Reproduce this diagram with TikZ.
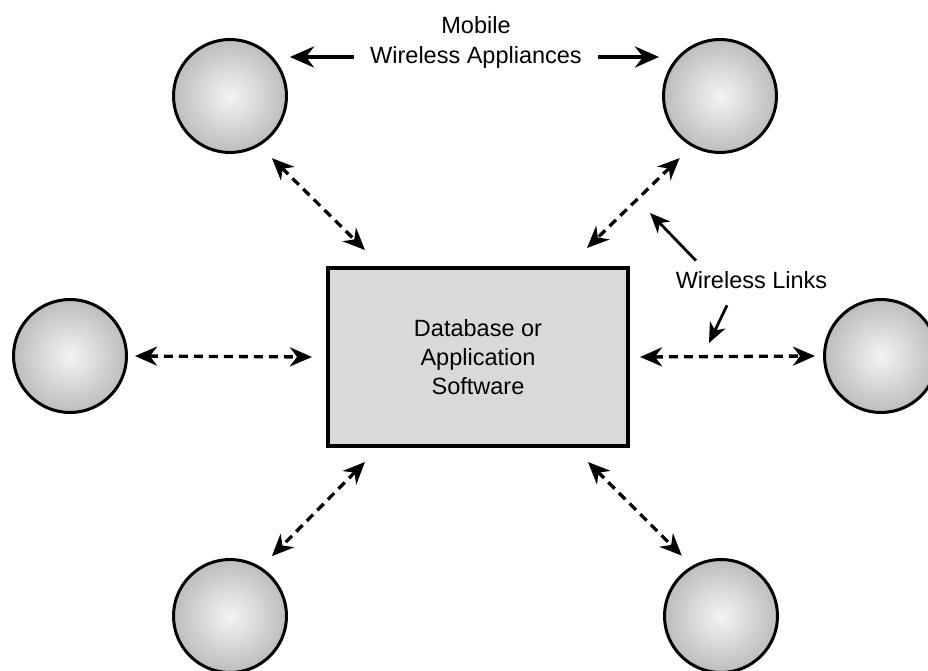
\documentclass[tikz,border=0pt]{standalone}
\usepackage{fontspec}
\setmainfont{Liberation Sans}
\usetikzlibrary{arrows.meta}
\definecolor{ballin}{HTML}{F4F4F4}
\definecolor{ballmid}{HTML}{BDBDBD}
\definecolor{ballout}{HTML}{7E7E7E}
\definecolor{boxgray}{HTML}{D9D9D9}
\pgfdeclareradialshading{ballshade}{\pgfpoint{0bp}{0bp}}{color(0bp)=(ballin); color(25bp)=(ballmid); color(50bp)=(ballout)}
\tikzset{
  ball/.style={circle, draw=black, line width=3pt, minimum size=113pt, inner sep=0pt, shading=ballshade},
  lbl/.style={inner sep=0pt, font=\fontsize{23.5}{29}\selectfont, align=center},
  link/.style={line width=3.3pt, dash pattern=on 9pt off 6pt,
    {Stealth[length=22pt,width=19pt,inset=7pt]}-{Stealth[length=22pt,width=19pt,inset=7pt]}},
  bigarr/.style={line width=4pt, -{Stealth[length=24pt,width=21pt,inset=8pt]}},
  smallarr/.style={line width=2.8pt, -{Stealth[length=20pt,width=17pt,inset=6pt]}}
}
\begin{document}
\begin{tikzpicture}[x=1pt,y=1pt]
\useasboundingbox (0,0) rectangle (928,670);
\clip (0,0) rectangle (928,670);
% appliances
\node[ball] (tl) at (230,574) {};
\node[ball] (tr) at (720,574) {};
\node[ball] (l) at (70,314) {};
\node[ball] (r) at (881,314) {};
\node[ball] (bl) at (230,54) {};
\node[ball] (br) at (721,54) {};
% central box
\node[draw=black, line width=4pt, fill=boxgray, minimum width=300pt, minimum height=178pt,
      inner sep=0pt, font=\fontsize{23.5}{29}\selectfont, align=center] (box) at (478,313)
      {Database or\\Application\\Software};
% labels
\node[lbl] (mob) at (476,644.5) {Mobile};
\node[lbl] (wa) at (476,613) {Wireless Appliances};
\node[lbl] (wl) at (751.5,389.5) {Wireless Links};
% mobile arrows
\draw[bigarr, shorten <=16pt, shorten >=2pt] (wa.west) -- (wa.west -| tl.east);
\draw[bigarr, shorten <=16pt, shorten >=3pt] (wa.east) -- (wa.east -| tr.west);
% wireless links
\draw[link] ([shift={(-56:17pt)}]tl.-56) -- ([shift={(39pt,16pt)}]box.north west);
\draw[link] ([shift={(237:16pt)}]tr.237) -- ([shift={(-43pt,18pt)}]box.north east);
\draw[link] ([xshift=7pt]l.east) -- ([xshift=-14pt]box.west);
\draw[link] ([xshift=10pt]box.east) -- ([xshift=-8pt]r.west);
\draw[link] ([shift={(39pt,-14pt)}]box.south west) -- ([shift={(55:15pt)}]bl.55);
\draw[link] ([shift={(-42pt,-14pt)}]box.south east) -- ([shift={(123:14pt)}]br.123);
% pointers from "Wireless Links"
\coordinate (wlt1) at (650,457);
\coordinate (wlt2) at (709,327);
\draw[smallarr] ([shift={(-55.5pt,11pt)}]wl.north) -- (wlt1);
\draw[smallarr] ([shift={(-24.5pt,-16pt)}]wl.south) -- (wlt2);
\end{tikzpicture}
\end{document}
